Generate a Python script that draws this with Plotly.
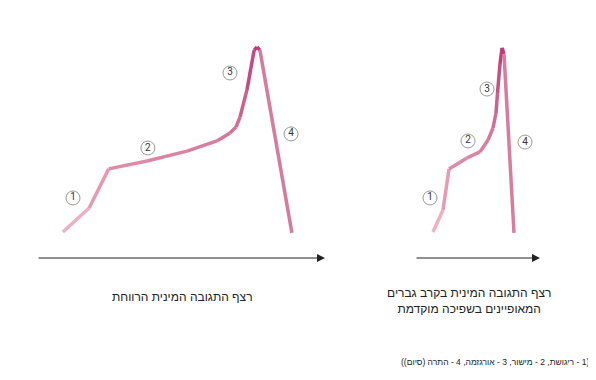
import plotly.graph_objects as go

# Left chart: common sexual response cycle (time vs. arousal, arbitrary units)
left_t = [9.0, 18.1, 24.9, 38.2, 52.1, 62.5, 67.0, 69.1, 70.5, 72.9, 75.4, 76.4, 77.4, 88.5]
left_a = [11.8, 22.7, 40.5, 44.1, 48.6, 53.2, 56.8, 59.5, 64.1, 76.4, 94.5, 95.9, 94.5, 11.4]
left_lbl_t = [12.5, 38.5, 67.0, 88.2]
left_lbl_a = [27.3, 50.0, 84.1, 56.4]

# Right chart: men with premature ejaculation
right_t = [14.4, 22.4, 27.2, 41.6, 52.0, 58.4, 62.4, 64.8, 66.0, 68.0, 69.6, 71.2, 79.2]
right_a = [11.8, 21.8, 40.5, 45.5, 48.2, 53.6, 59.1, 65.9, 75.0, 88.2, 95.5, 92.7, 11.4]
right_lbl_t = [12.0, 42.4, 57.6, 88.0]
right_lbl_a = [27.3, 53.2, 76.8, 52.7]

labels = ["1", "2", "3", "4"]
title_left = "רצף התגובה המינית הרווחת"
title_right = "רצף התגובה המינית בקרב גברים<br>המאופיינים בשפיכה מוקדמת"
footnote = "\u202b(1 - ריגושת, 2 - מישור, 3 - אורגזמה, 4 - התרה (סיום))\u202c"

LOW = (242, 188, 196)
HIGH = (188, 58, 118)

OFF = 8          # page body margin
W, H = 588, 372  # figure size


def px(x):
    return (x - OFF) / W


def py(y):
    return 1 - (y - OFF) / H


def col(a):
    f = max(0.0, min(1.0, (a - 10) / 86))
    r, g, b = [round(LOW[i] + (HIGH[i] - LOW[i]) * f) for i in range(3)]
    return f"rgb({r},{g},{b})"


fig = go.Figure()


def add_curve(ts, ys, xa, ya):
    for i in range(len(ts) - 1):
        fig.add_trace(go.Scatter(
            x=ts[i:i + 2], y=ys[i:i + 2], mode="lines",
            line=dict(color=col((ys[i] + ys[i + 1]) / 2), width=3.5),
            xaxis=xa, yaxis=ya, hoverinfo="skip", showlegend=False))


def add_labels(ts, ys, xa, ya):
    fig.add_trace(go.Scatter(
        x=ts, y=ys, mode="markers+text", text=labels,
        textposition="middle center",
        textfont=dict(size=10, color="#333", family="Roboto"),
        marker=dict(size=14, color="white", line=dict(color="#999", width=1)),
        xaxis=xa, yaxis=ya, hoverinfo="skip", showlegend=False))


add_curve(left_t, left_a, "x", "y")
add_labels(left_lbl_t, left_lbl_a, "x", "y")
add_curve(right_t, right_a, "x2", "y2")
add_labels(right_lbl_t, right_lbl_a, "x2", "y2")

for xr, yr in (("x", "y"), ("x2", "y2")):
    fig.add_annotation(x=100, y=0, ax=0, ay=0, xref=xr, yref=yr,
                       axref=xr, ayref=yr, showarrow=True, arrowhead=2,
                       arrowsize=1.6, arrowwidth=1, arrowcolor="#222", text="")

ydom = [py(258), py(38)]
axis_common = dict(showgrid=False, zeroline=False, showticklabels=False,
                   showline=False, fixedrange=True)
fig.update_layout(
    width=W, height=H, margin=dict(l=0, r=0, t=0, b=0),
    paper_bgcolor="white", plot_bgcolor="white",
    xaxis=dict(domain=[px(37), px(325)], range=[0, 100], **axis_common),
    yaxis=dict(domain=ydom, range=[0, 100], **axis_common),
    xaxis2=dict(domain=[px(415), px(540)], range=[0, 100], anchor="y2", **axis_common),
    yaxis2=dict(domain=ydom, range=[0, 100], anchor="x2", **axis_common),
    font=dict(family="Liberation Sans, Arial, sans-serif", color="#222"),
)

fig.add_annotation(text=title_left, x=px(182), y=py(297), xref="paper", yref="paper",
                   xanchor="center", yanchor="middle", showarrow=False, font=dict(size=12))
fig.add_annotation(text=title_right, x=px(469), y=py(301), xref="paper", yref="paper",
                   xanchor="center", yanchor="middle", showarrow=False, font=dict(size=12))
fig.add_annotation(text=footnote, x=px(495), y=py(362), xref="paper", yref="paper",
                   xanchor="center", yanchor="middle", showarrow=False, font=dict(size=8.5))

fig.write_html("out.html")
